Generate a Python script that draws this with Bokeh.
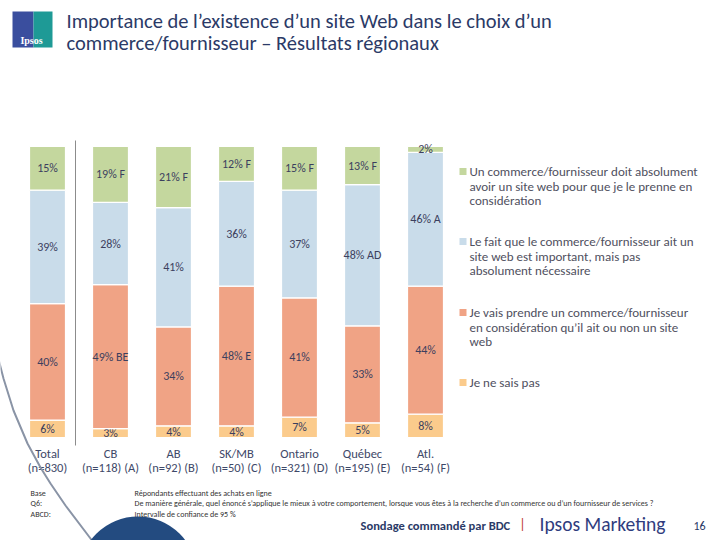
from bokeh.plotting import figure
from bokeh.models import Range1d, Label, ColumnDataSource
from bokeh.embed import file_html
from bokeh.resources import INLINE
from bokeh.core.properties import value

# ---------------- data ----------------
regions = ["Total", "CB", "AB", "SK/MB", "Ontario", "Québec", "Atl."]
bases = ["(n=830)", "(n=118) (A)", "(n=92) (B)", "(n=50) (C)", "(n=321) (D)", "(n=195) (E)", "(n=54) (F)"]

# bottom -> top
series_names = [
    "Je ne sais pas",
    "Je vais prendre un commerce/fournisseur\nen considération qu\u2019il ait ou non un site\nweb",
    "Le fait que le commerce/fournisseur ait un\nsite web est important, mais pas\nabsolument nécessaire",
    "Un commerce/fournisseur doit absolument\navoir un site web pour que je le prenne en\nconsidération",
]
dont_know = [6, 3, 4, 4, 7, 5, 8]
consider_anyway = [40, 49, 34, 48, 41, 33, 44]
important = [39, 28, 41, 36, 37, 48, 46]
must_have = [15, 19, 21, 12, 15, 13, 2]

sig_dont_know = ["", "", "", "", "", "", ""]
sig_consider_anyway = ["", "BE", "", "E", "", "", ""]
sig_important = ["", "", "", "", "", "AD", "A"]
sig_must_have = ["", "F", "F", "F", "F", "F", ""]

colors = ["#FBCB8C", "#F0A385", "#C9DCEA", "#C4D79E"]

title_lines = ["Importance de l\u2019existence d\u2019un site Web dans le choix d\u2019un",
               "commerce/fournisseur \u2013 Résultats régionaux"]
foot_keys = ["Base", "Q6:", "ABCD:"]
foot_texts = ["Répondants effectuant des achats en ligne",
              "De manière générale, quel énoncé s\u2019applique le mieux à votre comportement, lorsque vous êtes à la recherche d\u2019un commerce ou d\u2019un fournisseur de services ?",
              "Intervalle de confiance de 95 %"]

# ---------------- figure ----------------
W, H = 720, 540
FONT = "Carlito"
NAVY = "#2B3A67"
p = figure(width=W, height=H, output_backend="svg", toolbar_location=None,
           x_axis_location=None, y_axis_location=None, min_border=0,
           x_range=Range1d(-47 / 63, (W - 47) / 63),
           y_range=Range1d(-(H - 437) / 2.91, 100 + 146 / 2.91))
p.outline_line_color = None
p.grid.visible = False
p.background_fill_color = "white"
p.extra_x_ranges = {"px": Range1d(0, W)}
p.extra_y_ranges = {"px": Range1d(H, 0)}
PX = dict(x_range_name="px", y_range_name="px")

series = [dont_know, consider_anyway, important, must_have]
sigs = [sig_dont_know, sig_consider_anyway, sig_important, sig_must_have]
xs = list(range(len(regions)))
totals = [sum(s[i] for s in series) for i in xs]
bottom = [0.0] * len(xs)
for vals, sg, col in zip(series, sigs, colors):
    frac = [v / t * 100 for v, t in zip(vals, totals)]
    top = [b + f for b, f in zip(bottom, frac)]
    mid = [(b + t) / 2 for b, t in zip(bottom, top)]
    txt = [f"{v}%" + (f" {s}" if s else "") for v, s in zip(vals, sg)]
    src = ColumnDataSource(dict(x=xs, bottom=bottom, top=top, mid=mid, txt=txt))
    p.vbar(x="x", bottom="bottom", top="top", width=0.571, source=src,
           fill_color=col, line_color="white", line_width=1.2)
    p.text(x="x", y="mid", text="txt", source=src, text_align="center",
           text_baseline="middle", text_font=value(FONT), text_font_size="12px",
           text_color="#3C3F5E")
    bottom = top

# category labels under bars
cat_src = ColumnDataSource(dict(x=xs, y=[0] * len(xs), r=regions, b=bases))
p.text(x="x", y="y", text="r", source=cat_src, y_offset=16, text_align="center",
       text_baseline="middle", text_font=value(FONT), text_font_size="12.5px", text_color="#3E4868")
p.text(x="x", y="y", text="b", source=cat_src, y_offset=30, text_align="center",
       text_baseline="middle", text_font=value(FONT), text_font_size="12.5px", text_color="#3E4868")

# separator between Total and regions
p.segment(x0=[75], y0=[140], x1=[75], y1=[445], line_color="#8C8C8C", line_width=1, **PX)

# decorations: curve and circle
p.line(x=[-3, 3, 13, 27, 40, 50, 65, 90, 100], y=[355, 378, 410, 443, 467, 483, 505, 538, 552],
       line_color="#8A94A6", line_width=2, **PX)
p.scatter(x=[137.5], y=[575], size=118, fill_color="#234B80", line_color=None, **PX)

# logo
p.quad(left=[12], right=[33], top=[11], bottom=[47], fill_color="#3A4E9E", line_color=None, **PX)
p.quad(left=[33], right=[52], top=[11], bottom=[47], fill_color="#1E9A96", line_color=None, **PX)
p.add_layout(Label(x=31, y=40, text="Ipsos", text_align="center", text_baseline="middle",
                   text_font="Liberation Serif", text_font_size="10px", text_font_style="bold",
                   text_color="white", **PX))

# title
for i, line in enumerate(title_lines):
    p.add_layout(Label(x=66, y=20 + 22 * i, text=line, text_align="left", text_baseline="middle",
                       text_font=FONT, text_font_size="20.5px", text_color=NAVY, **PX))

# legend (top -> bottom)
leg_y = [171, 241, 312, 382]
for yy, name, col in zip(leg_y, series_names[::-1], colors[::-1]):
    p.rect(x=[462.5], y=[yy], width=7, height=7, fill_color=col, line_color=None, **PX)
    for j, ln in enumerate(name.split("\n")):
        p.add_layout(Label(x=469, y=yy + 14.5 * j, text=ln, text_align="left", text_baseline="middle",
                           text_font=FONT, text_font_size="13px", text_color="#4F5060", **PX))

# footnotes
for i, (k, t) in enumerate(zip(foot_keys, foot_texts)):
    p.add_layout(Label(x=30, y=492 + 10.5 * i, text=k, text_align="left", text_baseline="middle",
                       text_font=FONT, text_font_size="8px", text_color="#333333", **PX))
    p.add_layout(Label(x=134, y=492 + 10.5 * i, text=t, text_align="left", text_baseline="middle",
                       text_font=FONT, text_font_size="8px", text_color="#333333", **PX))

# bottom banner
p.add_layout(Label(x=360, y=525, text="Sondage commandé par BDC", text_align="left", text_baseline="middle",
                   text_font=FONT, text_font_style="bold", text_font_size="12.5px", text_color=NAVY, **PX))
p.add_layout(Label(x=522, y=524, text="|", text_align="center", text_baseline="middle",
                   text_font=FONT, text_font_size="14px", text_color="#C0392B", **PX))
p.add_layout(Label(x=539, y=523, text="Ipsos Marketing", text_align="left", text_baseline="middle",
                   text_font=FONT, text_font_size="19.5px", text_color="#2F3C7E", **PX))
p.add_layout(Label(x=693, y=525, text="16", text_align="left", text_baseline="middle",
                   text_font=FONT, text_font_size="12px", text_color=NAVY, **PX))

open("out.html", "w").write(file_html(p, INLINE))
